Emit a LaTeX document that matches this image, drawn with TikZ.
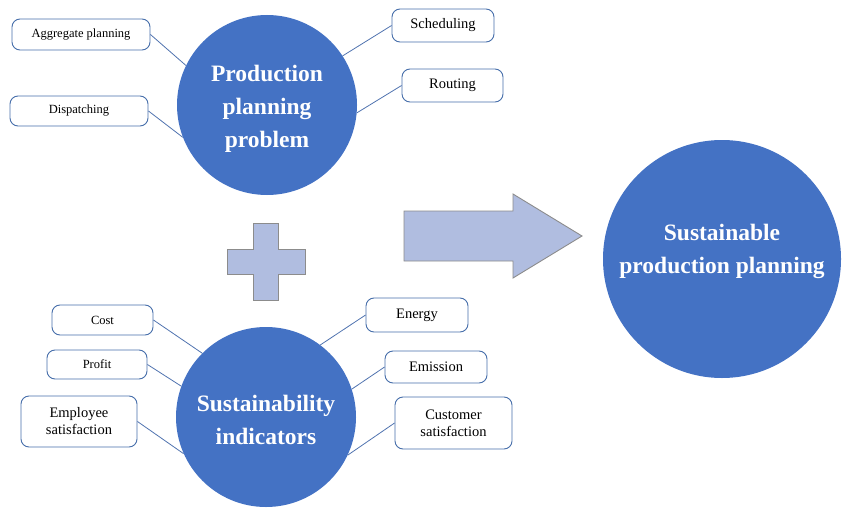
\documentclass[tikz,border=0pt]{standalone}
\usepackage{fontspec}
\setmainfont{Liberation Serif}
\definecolor{circblue}{RGB}{68,114,196}
\definecolor{boxline}{RGB}{70,110,170}
\definecolor{conline}{RGB}{80,115,175}
\definecolor{shapefill}{RGB}{176,189,224}
\definecolor{shapeline}{RGB}{140,140,140}
\newcommand{\circtxt}[4]{\parbox{#1}{\centering\vspace*{#2}#4\par\vspace*{#3}}}
\begin{document}
\begin{tikzpicture}[x=1pt,y=-1pt,
  bigcircle/.style={circle,fill=circblue,draw=none,text=white,align=center,inner sep=0pt,
    font=\fontsize{23.5}{33}\selectfont\bfseries},
  itembox/.style={draw=boxline,line width=0.9pt,rounded corners=8pt,fill=white,align=center,inner sep=0pt},
  smalltext/.style={font=\fontsize{12.5}{16}\selectfont},
  largetext/.style={font=\fontsize{14.5}{17}\selectfont},
  conn/.style={draw=conline,line width=0.8pt},
  bigshape/.style={fill=shapefill,draw=shapeline,line width=0.9pt}
]
\useasboundingbox (0,0) rectangle (850,516);

% circles
\node[bigcircle,minimum size=180pt] (ppp) at (267,105) {\circtxt{120pt}{8pt}{0pt}{Production\\planning\\problem}};
\node[bigcircle,minimum size=180pt] (si) at (266,417) {\circtxt{150pt}{6pt}{0pt}{Sustainability\\indicators}};
\node[bigcircle,minimum size=238pt] (spp) at (722,259) {\circtxt{212pt}{0pt}{16pt}{Sustainable\\production planning}};

% top boxes
\node[itembox,smalltext,minimum width=138pt,minimum height=31pt] (agg) at (81,34.5) {Aggregate planning};
\node[itembox,smalltext,minimum width=138pt,minimum height=30pt] (disp) at (79,111) {Dispatching};
\node[itembox,largetext,minimum width=102pt,minimum height=33pt] (sched) at (443,25.5) {Scheduling};
\node[itembox,largetext,minimum width=101pt,minimum height=33pt] (rout) at (452.5,85.5) {Routing};

% bottom boxes
\node[itembox,smalltext,minimum width=101pt,minimum height=30pt] (cost) at (102.5,320) {Cost};
\node[itembox,smalltext,minimum width=100pt,minimum height=29pt] (profit) at (97,364.5) {Profit};
\node[itembox,largetext,minimum width=116pt,minimum height=51pt] (emp) at (79,421.5) {Employee\\satisfaction};
\node[itembox,largetext,minimum width=102pt,minimum height=34pt] (energy) at (417,315) {Energy};
\node[itembox,largetext,minimum width=102pt,minimum height=32pt] (emis) at (436,367) {Emission};
\node[itembox,largetext,minimum width=117pt,minimum height=52pt] (cust) at (453.5,423) {Customer\\satisfaction};

% connectors
\draw[conn] (agg.east) -- (ppp.154);
\draw[conn] (disp.east) -- (ppp.201);
\draw[conn] (sched.west) -- (ppp.33);
\draw[conn] (rout.west) -- (ppp.-5);
\draw[conn] (cost.east) -- (si.135);
\draw[conn] (profit.east) -- (si.160);
\draw[conn] (emp.east) -- (si.204);
\draw[conn] (energy.west) -- (si.53);
\draw[conn] (emis.west) -- (si.18);
\draw[conn] (cust.west) -- (si.-25);

% plus sign
\draw[bigshape] (253,223) -- (278,223) -- (278,249) -- (305,249) -- (305,274) -- (278,274)
  -- (278,300) -- (253,300) -- (253,274) -- (227,274) -- (227,249) -- (253,249) -- cycle;

% big arrow
\draw[bigshape] (404,211) -- (513,211) -- (513,194) -- (582,236) -- (513,278) -- (513,261)
  -- (404,261) -- cycle;
\end{tikzpicture}
\end{document}
